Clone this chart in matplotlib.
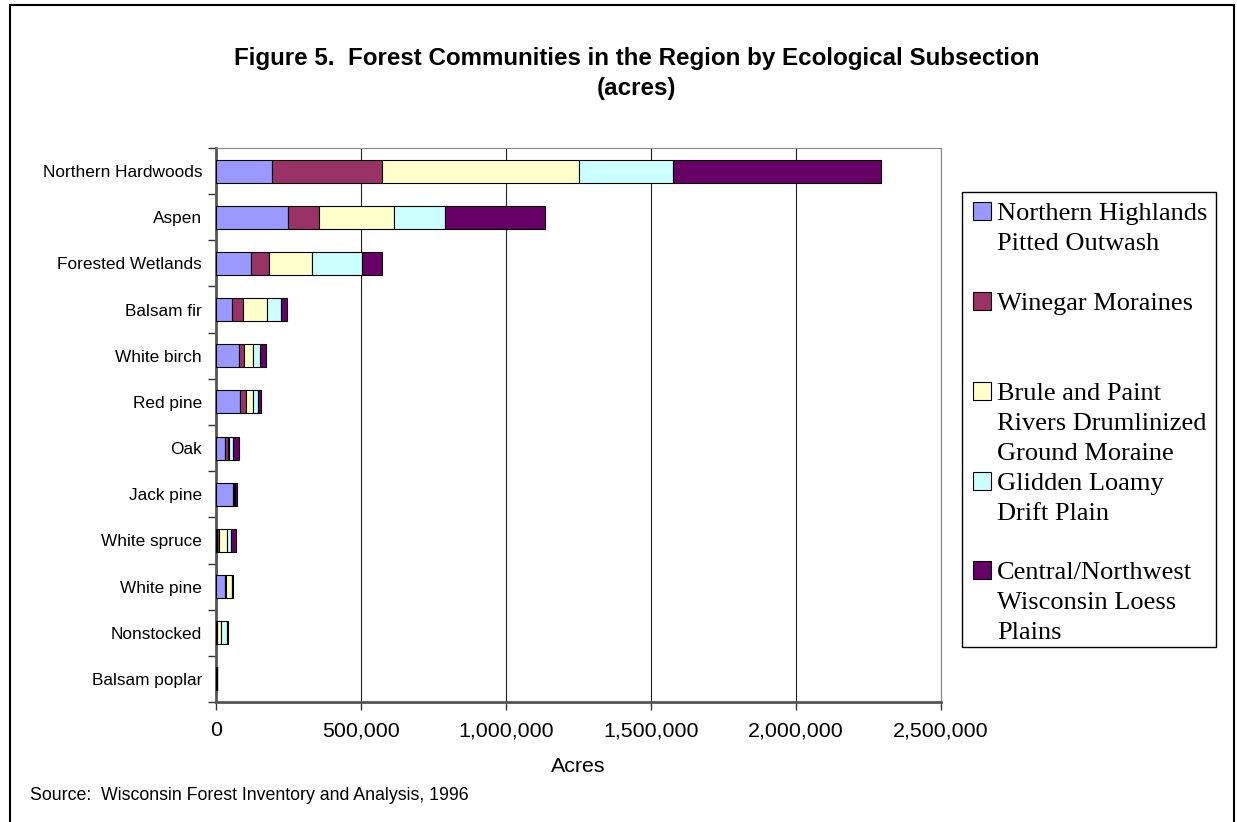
import matplotlib
matplotlib.use("Agg")
import matplotlib.pyplot as plt
from matplotlib.patches import Rectangle
from matplotlib.ticker import StrMethodFormatter
import numpy as np

# forest community types, top to bottom
categories = ["Northern Hardwoods", "Aspen", "Forested Wetlands", "Balsam fir",
              "White birch", "Red pine", "Oak", "Jack pine", "White spruce",
              "White pine", "Nonstocked", "Balsam poplar"]

# acres per ecological subsection
northern_highlands = [194000, 249000, 120000, 54000, 80000, 84000, 32000, 60000, 2000, 32000, 2000, 1000]
winegar = [379000, 107000, 63000, 40000, 18000, 18000, 8000, 2000, 7000, 2000, 0, 1000]
brule_paint = [677000, 257000, 149000, 81000, 31000, 26000, 5000, 2000, 28000, 20000, 14000, 1000]
glidden = [325000, 178000, 170000, 49000, 24000, 18000, 15000, 1000, 14000, 2000, 23000, 500]
central_nw = [718000, 343000, 71000, 20000, 18000, 9000, 18000, 8000, 17000, 1000, 1000, 1000]

series_names = ["Northern Highlands\nPitted Outwash",
                "Winegar Moraines",
                "Brule and Paint\nRivers Drumlinized\nGround Moraine",
                "Glidden Loamy\nDrift Plain",
                "Central/Northwest\nWisconsin Loess\nPlains"]
series_colors = ["#9999FF", "#993366", "#FFFFCC", "#CCFFFF", "#660066"]

W, H = 1237, 822
fig = plt.figure(figsize=(W / 100, H / 100), dpi=100)
fig.patch.set_facecolor("white")

# outer chart frame
fig.patches.append(Rectangle((10 / W, -0.01), (1234 - 10) / W, (H - 5) / H + 0.01,
                             transform=fig.transFigure, fill=False,
                             edgecolor="black", linewidth=1.5))

# plot area in pixels
left, right, top, bottom = 216, 941, 148, 702
ax = fig.add_axes([left / W, (H - bottom) / H, (right - left) / W, (bottom - top) / H])

y = np.arange(len(categories))
cum = np.zeros(len(categories))
for vals, color in zip([northern_highlands, winegar, brule_paint, glidden, central_nw],
                       series_colors):
    vals = np.array(vals, dtype=float)
    ax.barh(y, vals, left=cum, height=0.5, color=color, edgecolor="black",
            linewidth=0.8, zorder=3)
    cum += vals

ax.set_xlim(0, 2500000)
ax.set_ylim(len(categories) - 0.5, -0.5)

ax.set_xticks(np.arange(0, 2500001, 500000))
ax.xaxis.set_major_formatter(StrMethodFormatter("{x:,.0f}"))
ax.grid(axis="x", color="#222222", linewidth=0.8, zorder=0)
ax.tick_params(axis="x", direction="out", length=6, width=1, color="#333333",
               labelsize=15.4, pad=8)

ax.set_yticks(y)
ax.set_yticklabels(categories)
ax.set_yticks(np.arange(-0.5, len(categories), 1), minor=True)
ax.tick_params(axis="y", which="major", length=0, labelsize=12.4, pad=10)
ax.tick_params(axis="y", which="minor", direction="out", length=6, width=1, color="#333333")

for lab in ax.get_xticklabels() + ax.get_yticklabels():
    lab.set_fontfamily("Liberation Sans")

ax.spines["left"].set_color("#555555")
ax.spines["left"].set_linewidth(2)
ax.spines["bottom"].set_color("#555555")
ax.spines["bottom"].set_linewidth(2)
ax.spines["top"].set_color("#888888")
ax.spines["right"].set_color("#888888")

ax.set_xlabel("Acres", fontsize=15.4, fontfamily="Liberation Sans", labelpad=12)

# title
fig.text(637 / W, 1 - 58 / H, "Figure 5.  Forest Communities in the Region by Ecological Subsection",
         ha="center", va="center", fontsize=17.4, fontweight="bold", fontfamily="Liberation Sans")
fig.text(637 / W, 1 - 88 / H, "(acres)", ha="center", va="center", fontsize=17.4,
         fontweight="bold", fontfamily="Liberation Sans")

# source note
fig.text(30 / W, 1 - 795 / H, "Source:  Wisconsin Forest Inventory and Analysis, 1996",
         ha="left", va="center", fontsize=12.8, fontfamily="Liberation Sans")

# legend box drawn by hand to keep Excel-like spacing
lx0, lx1, ly0, ly1 = 962, 1216, 192, 647
fig.patches.append(Rectangle((lx0 / W, 1 - ly1 / H), (lx1 - lx0) / W, (ly1 - ly0) / H,
                             transform=fig.transFigure, fill=False,
                             edgecolor="black", linewidth=1))
entry_y = [211, 301, 391, 481, 570]
line_step = 30
for name, color, ey in zip(series_names, series_colors, entry_y):
    fig.patches.append(Rectangle((973 / W, 1 - (ey + 9) / H), 18 / W, 18 / H,
                                 transform=fig.transFigure, facecolor=color,
                                 edgecolor="black", linewidth=0.8))
    for k, line in enumerate(name.split("\n")):
        fig.text(997 / W, 1 - (ey + 9 + k * line_step) / H, line, ha="left",
                 va="baseline", fontsize=19, fontfamily="Liberation Serif")

fig.savefig("out.png", dpi=100, facecolor="white")
